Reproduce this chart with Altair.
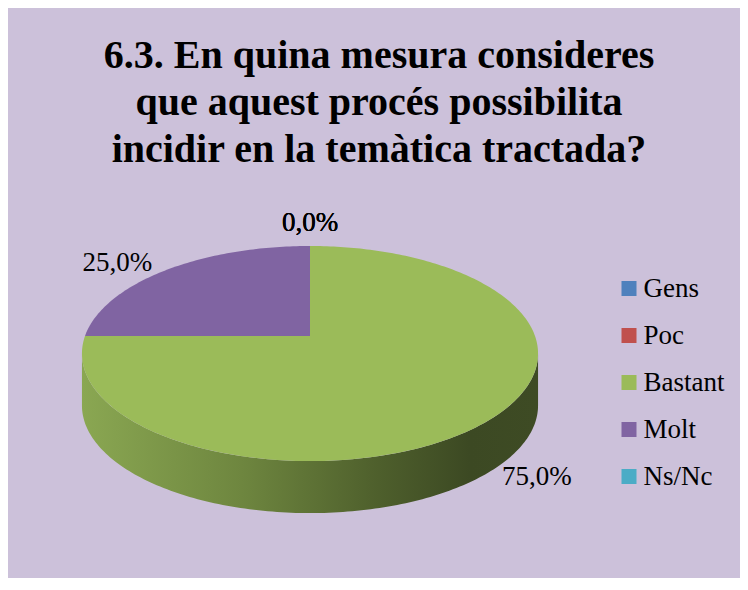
import math
import altair as alt
import pandas as pd

# ---------------- data ----------------
categories = ["Gens", "Poc", "Bastant", "Molt", "Ns/Nc"]
values = [0.0, 0.0, 75.0, 25.0, 0.0]
colors = ["#4F81BD", "#C0504D", "#9BBB59", "#8064A2", "#4BACC6"]
title_lines = [
    "6.3. En quina mesura consideres",
    "que aquest procés possibilita",
    "incidir en la temàtica tractada?",
]

# ---------------- layout ----------------
W, H = 732, 378          # view size
PAD_TOP = 192            # view starts at page y = 200
OX, OY = 8, 8 + PAD_TOP  # page offset of view origin
CX, CY = 310, 336        # pie centre (page px)
A, B, Q = 225.0, 104.7, 0.163   # perspective projection of the pie top
DEPTH = 52.0
FONT = "Liberation Serif"


def proj(a_deg, r=1.0):
    a = math.radians(a_deg)
    X, Z = r * math.sin(a), r * math.cos(a)
    s = 1 + Q * Z
    return CX + A * X / s - OX, CY - B * Z / s - OY


total = sum(values)
rows, labels_rows = [], []
start = 0.0
for cat, v in zip(categories, values):
    span = 360.0 * v / total
    end = start + span
    n = max(2, int(span))
    pts = [(CX - OX, CY - OY)]
    for k in range(n + 1):
        pts.append(proj(start + span * k / n))
    pts.append((CX - OX, CY - OY))
    for i, (x, y) in enumerate(pts):
        rows.append({"category": cat, "i": i, "x": x, "y": y})
    # label, placed just outside the slice's rim
    m = start + span / 2
    sm, cm = math.sin(math.radians(m)), math.cos(math.radians(m))
    front = cm < -0.3
    lx, ly = proj(m, 1.06 if front else 1.12)
    if abs(sm) < 0.3:
        align = "center"
        baseline = "bottom" if cm > 0 else "top"
    else:
        align = "left" if sm > 0 else "right"
        baseline = "middle"
    if front:
        ly += DEPTH
    labels_rows.append({
        "category": cat,
        "label": f"{v:.1f}%".replace(".", ","),
        "x": lx, "y": ly, "align": align, "baseline": baseline,
    })
    start = end

slices = pd.DataFrame(rows)
labels = pd.DataFrame(labels_rows)

# side band (front half of the rim)
a0 = math.degrees(math.acos(-Q))
a1 = 360 - a0
side = []
N = 160
top_edge = [proj(a0 + (a1 - a0) * k / N) for k in range(N + 1)]
edge = top_edge + [(x, y + DEPTH) for x, y in reversed(top_edge)]
for i, (x, y) in enumerate(edge):
    side.append({"i": i, "x": x, "y": y})
side = pd.DataFrame(side)

xs = alt.Scale(domain=[0, W], nice=False, zero=False)
ys = alt.Scale(domain=[0, H], nice=False, zero=False, reverse=True)
X = alt.X("x:Q", scale=xs, axis=None)
Y = alt.Y("y:Q", scale=ys, axis=None)

grad = alt.LinearGradient(
    gradient="linear",
    stops=[
        alt.GradientStop(color="#8AA752", offset=0),
        alt.GradientStop(color="#6E863F", offset=0.35),
        alt.GradientStop(color="#4E5F2C", offset=0.65),
        alt.GradientStop(color="#3C4923", offset=0.85),
        alt.GradientStop(color="#3E4B24", offset=1),
    ],
    x1=0, x2=1, y1=0, y2=0,
)

side_layer = alt.Chart(side).mark_line(filled=True, strokeWidth=0, color=grad).encode(
    x=X, y=Y, order=alt.Order("i:Q")
)

slice_layer = alt.Chart(slices).mark_line(filled=True, strokeWidth=0, opacity=1).encode(
    x=X, y=Y, order=alt.Order("i:Q"),
    color=alt.Color(
        "category:N",
        scale=alt.Scale(domain=categories, range=colors),
        sort=categories,
        legend=alt.Legend(
            title=None, orient="none", legendX=607.5, legendY=75,
            symbolType="square", symbolSize=225, symbolStrokeWidth=0,
            symbolOpacity=1, labelFont=FONT, labelFontSize=27,
            labelColor="black", labelOffset=1, rowPadding=19, padding=0,
        ),
    ),
)

# per-alignment text layers (align/baseline are mark properties)
text_layers = []
for (al, bl), grp in labels.groupby(["align", "baseline"]):
    text_layers.append(
        alt.Chart(grp).mark_text(font=FONT, fontSize=27, color="black",
                                 align=al, baseline=bl).encode(x=X, y=Y, text="label:N")
    )

chart = alt.layer(side_layer, slice_layer, *text_layers).properties(
    width=W, height=H,
    title=alt.TitleParams(
        text=title_lines, font=FONT, fontSize=40, fontWeight="bold",
        color="black", anchor="middle", lineHeight=47, offset=30, dx=5,
    ),
    padding={"left": 0, "top": PAD_TOP, "right": 0, "bottom": 0},
    autosize=alt.AutoSizeParams(type="none"),
).configure(background="#CCC1DA").configure_view(stroke=None)

chart.save("out.html", embed_options={"renderer": "svg", "actions": False})
